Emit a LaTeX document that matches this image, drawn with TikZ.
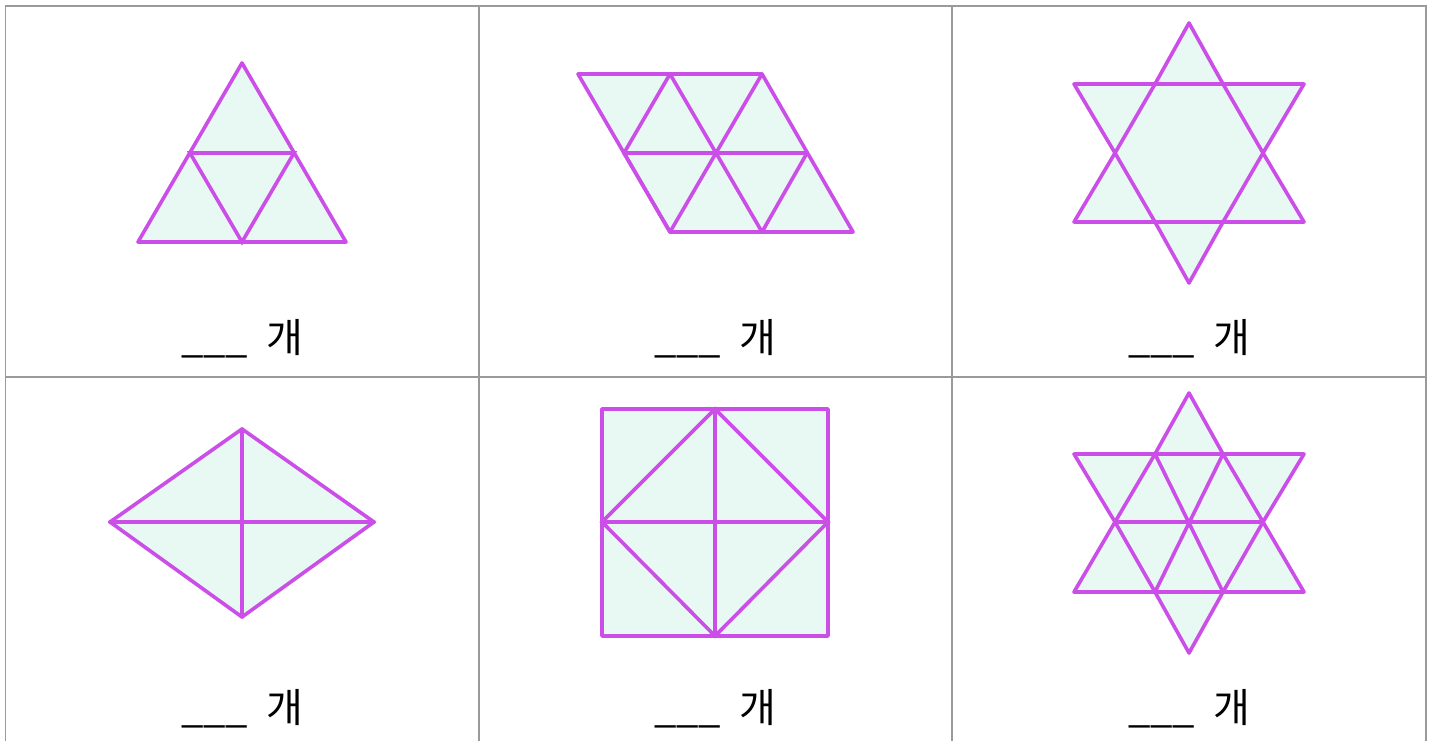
\documentclass[tikz,border=0pt]{standalone}
\usepackage{fontspec}
\newfontfamily\krfont{Noto Sans CJK KR}
\definecolor{shapeline}{HTML}{CC4EE8}
\definecolor{shapefill}{HTML}{E8F8F2}
\definecolor{gridline}{HTML}{9A9A9A}
\tikzset{
  shp/.style={draw=shapeline, fill=shapefill, line width=2.7pt, line join=round},
  inner/.style={draw=shapeline, line width=2.7pt, line cap=round},
  grid/.style={draw=gridline, line width=1.1pt},
  lbl/.style={font=\krfont\fontsize{30}{34}\selectfont, inner sep=0pt}
}
\newcommand{\blankcount}{\_\_\_\hspace{0.45em}개}
\begin{document}
\begin{tikzpicture}[x=0.75pt,y=-0.75pt]
\useasboundingbox (0,0) rectangle (1433,741);
\fill[white] (0,0) rectangle (1433,741);
% grid
\draw[grid] (5.5,745) -- (5.5,6) -- (1426,6) -- (1426,745);
\draw[grid] (479,6) -- (479,745);
\draw[grid] (952,6) -- (952,745);
\draw[grid] (5.5,377) -- (1426,377);

% 1: triangle
\coordinate (t1a) at (242,63);
\coordinate (t1b) at (138,242);
\coordinate (t1c) at (346,242);
\coordinate (t1ab) at (190,153);
\coordinate (t1ac) at (294,153);
\coordinate (t1bc) at (242,242);
\draw[shp] (t1a) -- (t1b) -- (t1c) -- cycle;
\draw[inner] (t1ab) -- (t1ac) -- (t1bc) -- cycle;

% 2: parallelogram
\coordinate (p1) at (578,74);
\coordinate (p2) at (670,74);
\coordinate (p3) at (762,74);
\coordinate (p4) at (624,153);
\coordinate (p5) at (716,153);
\coordinate (p6) at (807,153);
\coordinate (p7) at (670,232);
\coordinate (p8) at (762,232);
\coordinate (p9) at (853,232);
\draw[shp] (p1) -- (p3) -- (p9) -- (p7) -- cycle;
\draw[inner] (p4) -- (p6);
\draw[inner] (p2) -- (p4) (p3) -- (p7) (p6) -- (p8);
\draw[inner] (p2) -- (p8) (p4) -- (p7);

% 3: star
\coordinate (s1t) at (1189,23);
\coordinate (s1ul) at (1074,84);
\coordinate (s1ur) at (1304,84);
\coordinate (s1ll) at (1074,222);
\coordinate (s1lr) at (1304,222);
\coordinate (s1b) at (1189,283);
\coordinate (s1l) at (1115,153);
\coordinate (s1r) at (1263,153);
\coordinate (s1a) at (1155,84);
\coordinate (s1c) at (1223,84);
\coordinate (s1d) at (1155,222);
\coordinate (s1e) at (1223,222);
\draw[shp] (s1t) -- (s1c) -- (s1ur) -- (s1r) -- (s1lr) -- (s1e) -- (s1b) -- (s1d) -- (s1ll) -- (s1l) -- (s1ul) -- (s1a) -- cycle;
\draw[inner] (s1a) -- (s1c) -- (s1r) -- (s1e) -- (s1d) -- (s1l) -- cycle;

% 4: rhombus
\coordinate (r1) at (110,522);
\coordinate (r2) at (242,429);
\coordinate (r3) at (374,522);
\coordinate (r4) at (242,617);
\draw[shp] (r1) -- (r2) -- (r3) -- (r4) -- cycle;
\draw[inner] (r1) -- (r3) (r2) -- (r4);

% 5: square
\coordinate (q1) at (602,409);
\coordinate (q2) at (828,409);
\coordinate (q3) at (828,636);
\coordinate (q4) at (602,636);
\coordinate (qt) at (715,409);
\coordinate (qr) at (828,522);
\coordinate (qb) at (715,636);
\coordinate (ql) at (602,522);
\draw[shp] (q1) -- (q2) -- (q3) -- (q4) -- cycle;
\draw[inner] (qt) -- (qr) -- (qb) -- (ql) -- cycle;
\draw[inner] (qt) -- (qb) (ql) -- (qr);

% 6: star with grid
\coordinate (s2t) at (1189,393);
\coordinate (s2ul) at (1074,454);
\coordinate (s2ur) at (1304,454);
\coordinate (s2ll) at (1074,592);
\coordinate (s2lr) at (1304,592);
\coordinate (s2b) at (1189,653);
\coordinate (s2l) at (1115,522);
\coordinate (s2r) at (1263,522);
\coordinate (s2m) at (1189,522);
\coordinate (s2a) at (1155,454);
\coordinate (s2c) at (1223,454);
\coordinate (s2d) at (1155,592);
\coordinate (s2e) at (1223,592);
\draw[shp] (s2t) -- (s2c) -- (s2ur) -- (s2r) -- (s2lr) -- (s2e) -- (s2b) -- (s2d) -- (s2ll) -- (s2l) -- (s2ul) -- (s2a) -- cycle;
\draw[inner] (s2a) -- (s2c) -- (s2r) -- (s2e) -- (s2d) -- (s2l) -- cycle;
\draw[inner] (s2l) -- (s2r) (s2a) -- (s2e) (s2c) -- (s2d);

% labels
\node[lbl] (l1) at (242,339) {\blankcount};
\node[lbl] (l2) at (715,339) {\blankcount};
\node[lbl] (l3) at (1189,339) {\blankcount};
\node[lbl] (l4) at (242,709) {\blankcount};
\node[lbl] (l5) at (715,709) {\blankcount};
\node[lbl] (l6) at (1189,709) {\blankcount};
\end{tikzpicture}
\end{document}
